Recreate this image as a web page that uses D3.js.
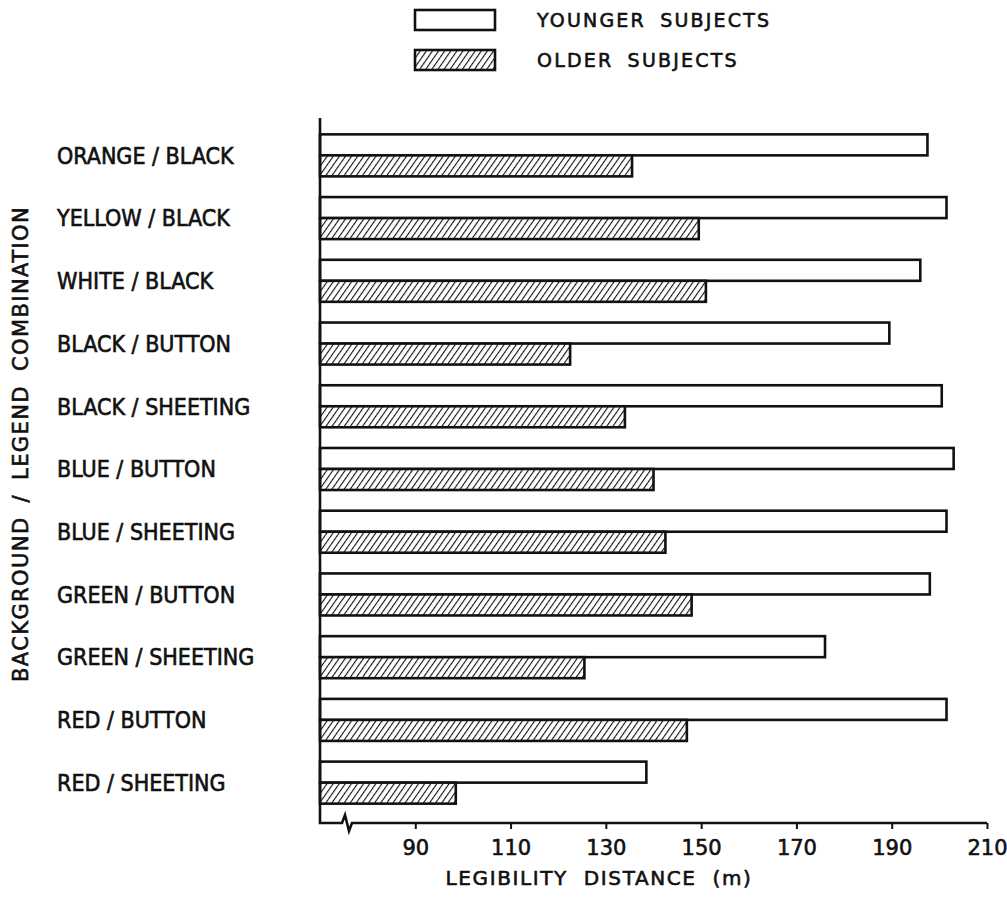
<!DOCTYPE html>
<html>
<head>
<meta charset="utf-8">
<script src="https://cdn.jsdelivr.net/npm/d3@7"></script>
<style>
  body { margin: 0; background: #fff; }
  text { font-family: "DejaVu Sans", sans-serif; fill: #111; stroke: #111; stroke-width: 0.6px; }
</style>
</head>
<body>
<script>
var categories = ["ORANGE / BLACK", "YELLOW / BLACK", "WHITE / BLACK", "BLACK / BUTTON",
    "BLACK / SHEETING", "BLUE / BUTTON", "BLUE / SHEETING", "GREEN / BUTTON",
    "GREEN / SHEETING", "RED / BUTTON", "RED / SHEETING"];
var younger = [197.5, 201.5, 196, 189.5, 200.5, 203, 201.5, 198, 176, 201.5, 138.5];
var older = [135.5, 149.5, 151, 122.5, 134, 140, 142.5, 148, 125.5, 147, 98.5];
var tickValues = [90, 110, 130, 150, 170, 190, 210];
var seriesNames = ["YOUNGER SUBJECTS", "OLDER SUBJECTS"];

var svg = d3.select("body")
    .append("svg")
    .attr("width", 1007)
    .attr("height", 897)
    .style("display", "block");

var defs = svg.append("defs");
var pat = defs.append("pattern")
    .attr("id", "hatch")
    .attr("patternUnits", "userSpaceOnUse")
    .attr("width", 5)
    .attr("height", 5)
    .attr("patternTransform", "rotate(35)");
pat.append("rect").attr("width", 5).attr("height", 5).attr("fill", "#fff");
pat.append("line")
    .attr("x1", 0).attr("y1", 0).attr("x2", 0).attr("y2", 5)
    .attr("stroke", "#111").attr("stroke-width", 2.2);

var x = d3.scaleLinear()
    .domain([70, 210])
    .range([320, 987]);

var y = d3.scaleBand()
    .domain(categories)
    .range([124, 814])
    .paddingInner(0.33)
    .paddingOuter(0.165);

var sub = d3.scaleBand()
    .domain([0, 1])
    .range([0, y.bandwidth()]);

var rows = svg.append("g").selectAll("g")
    .data(categories)
    .enter()
    .append("g")
    .attr("transform", function (d) { return "translate(0," + y(d) + ")"; });

rows.append("rect")
    .attr("x", x(70))
    .attr("y", sub(0))
    .attr("width", function (d, i) { return x(younger[i]) - x(70); })
    .attr("height", sub.bandwidth())
    .attr("fill", "#fff")
    .attr("stroke", "#111")
    .attr("stroke-width", 2.6);

rows.append("rect")
    .attr("x", x(70))
    .attr("y", sub(1))
    .attr("width", function (d, i) { return x(older[i]) - x(70); })
    .attr("height", sub.bandwidth())
    .attr("fill", "url(#hatch)")
    .attr("stroke", "#111")
    .attr("stroke-width", 2.6);

// category labels
rows.append("text")
    .attr("x", 57)
    .attr("y", y.bandwidth() / 2)
    .attr("dy", "0.36em")
    .style("font-family", "'DejaVu Sans Condensed', 'DejaVu Sans', sans-serif")
    .style("font-size", "23px")
    .text(function (d) { return d; });

// axis line with break
var axisY = 823;
svg.append("path")
    .attr("d", "M" + x(70) + ",118 V" + axisY + " H342 L345,815 L349,831 L352," + axisY + " H" + x(210))
    .attr("fill", "none")
    .attr("stroke", "#111")
    .attr("stroke-width", 2.6);

var xAxis = d3.axisBottom(x)
    .tickValues(tickValues)
    .tickSize(6)
    .tickPadding(11)
    .tickFormat(d3.format("d"));

var ax = svg.append("g")
    .attr("transform", "translate(0," + axisY + ")")
    .call(xAxis);
ax.select(".domain").remove();
ax.selectAll("line").attr("stroke", "#111").attr("stroke-width", 2);
ax.selectAll("text")
    .style("font-size", "21px")
    .style("font-family", "'DejaVu Sans', sans-serif")
    .attr("fill", "#111");

svg.append("text")
    .attr("x", 599)
    .attr("y", 885)
    .attr("text-anchor", "middle")
    .style("font-size", "20px")
    .style("letter-spacing", "1.6px")
    .style("word-spacing", "8px")
    .text("LEGIBILITY DISTANCE (m)");

svg.append("text")
    .attr("transform", "translate(28,444) rotate(-90)")
    .attr("text-anchor", "middle")
    .style("font-size", "21px")
    .style("letter-spacing", "1.4px")
    .style("word-spacing", "6px")
    .text("BACKGROUND / LEGEND COMBINATION");

// legend
var legend = svg.append("g").selectAll("g")
    .data(seriesNames)
    .enter()
    .append("g")
    .attr("transform", function (d, i) { return "translate(0," + (i * 40) + ")"; });

legend.append("rect")
    .attr("x", 415)
    .attr("y", 10)
    .attr("width", 80)
    .attr("height", 20)
    .attr("fill", function (d, i) { return i === 0 ? "#fff" : "url(#hatch)"; })
    .attr("stroke", "#111")
    .attr("stroke-width", 2.6);

legend.append("text")
    .attr("x", 537)
    .attr("y", 20)
    .attr("dy", "0.36em")
    .style("font-size", "19px")
    .style("letter-spacing", "2.2px")
    .style("word-spacing", "6px")
    .text(function (d) { return d; });
</script>
</body>
</html>
